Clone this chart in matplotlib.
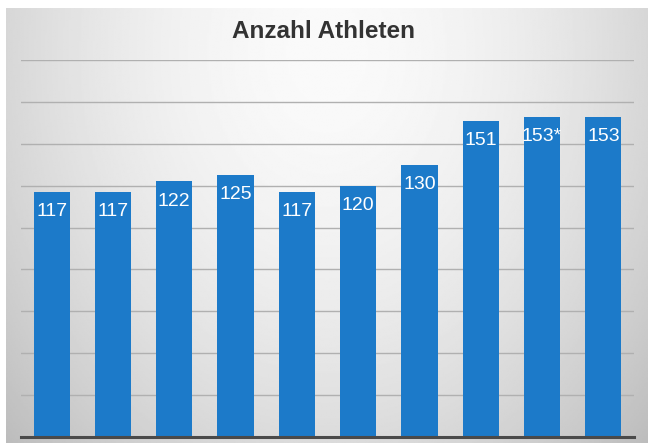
import numpy as np
import matplotlib.pyplot as plt

values = [117, 117, 122, 125, 117, 120, 130, 151, 153, 153]
labels = ["117", "117", "122", "125", "117", "120", "130", "151", "153*", "153"]

W, H = 648, 443
fig = plt.figure(figsize=(W / 100, H / 100), dpi=100)
fig.patch.set_facecolor("white")

# radial grey background
bg = fig.add_axes([6 / W, 0, 1 - 6 / W, 1 - 8 / H])
yy, xx = np.mgrid[0:1:300j, 0:1:400j]
r = np.sqrt(((xx - 0.5) / 0.6) ** 2 + ((yy - 0.1) / 1.15) ** 2)
shade = 0.98 - 0.19 * np.clip(r, 0, 1.2) ** 1.8
bg.imshow(shade, cmap="gray", vmin=0, vmax=1, aspect="auto", extent=[0, 1, 1, 0])
bg.axis("off")

ax = fig.add_axes([21 / W, 6 / H, 613 / W, (437 - 60) / H])
ax.patch.set_alpha(0)
x = np.arange(len(values))
ax.bar(x, values, width=0.59, color="#1c7ac9", zorder=2)
ax.set_xlim(-0.5, len(values) - 0.5)
ax.set_ylim(0, 180)
ax.set_yticks(np.arange(0, 181, 20))
ax.grid(axis="y", color="#b0b0b0", linewidth=1, zorder=0)
ax.tick_params(left=False, bottom=False, labelleft=False, labelbottom=False)
for s in ["top", "right", "left"]:
    ax.spines[s].set_visible(False)
ax.spines["bottom"].set_color("#4a4a4a")
ax.spines["bottom"].set_linewidth(2.2)
ax.spines["bottom"].set_zorder(3)

for xi, v, lab in zip(x, values, labels):
    ax.annotate(lab, (xi, v), xytext=(0, -8), textcoords="offset points",
                ha="center", va="top", color="white", fontsize=14,
                family="Liberation Sans", zorder=4)

fig.text(0.5, 1 - 31 / H, "Anzahl Athleten", ha="center", va="center",
         fontsize=17.5, fontweight="bold", color="#333333", family="Liberation Sans")

fig.savefig("out.png", dpi=100)
